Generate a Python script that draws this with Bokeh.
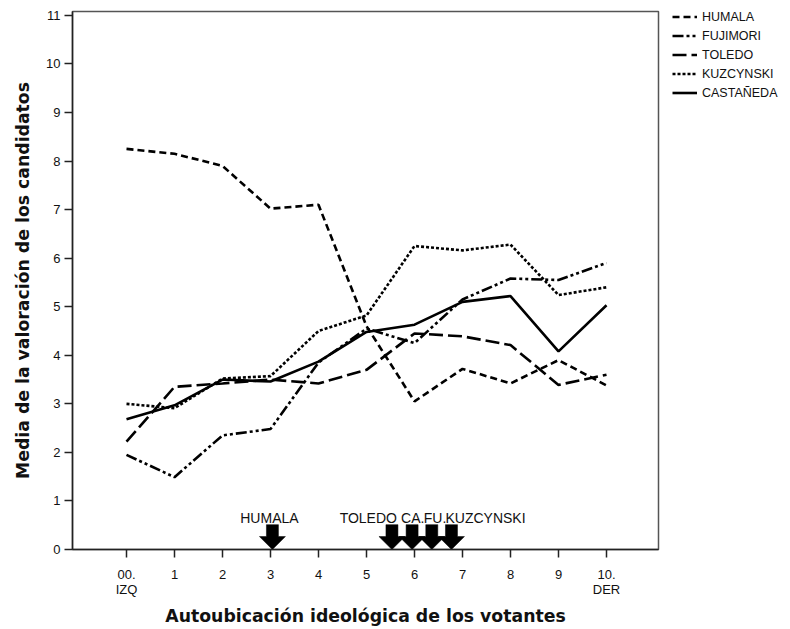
from bokeh.plotting import figure
from bokeh.models import Legend, LegendItem, FixedTicker, Range1d
from bokeh.layouts import row
from bokeh.embed import file_html
from bokeh.resources import INLINE
from bokeh.core.properties import value

# ---- data ----
positions = [0, 1, 2, 3, 4, 5, 6, 7, 8, 9, 10]
x_tick_labels = ["00.\nIZQ", "1", "2", "3", "4", "5", "6", "7", "8", "9", "10.\nDER"]
y_ticks = [0, 1, 2, 3, 4, 5, 6, 7, 8, 9, 10, 11]

humala = [8.25, 8.15, 7.90, 7.02, 7.10, 4.60, 3.05, 3.72, 3.42, 3.90, 3.38]
fujimori = [1.95, 1.49, 2.35, 2.48, 3.85, 4.55, 4.25, 5.15, 5.58, 5.55, 5.90]
toledo = [2.22, 3.35, 3.42, 3.50, 3.42, 3.70, 4.45, 4.39, 4.21, 3.39, 3.60]
kuzcynski = [3.00, 2.91, 3.52, 3.57, 4.50, 4.82, 6.25, 6.16, 6.28, 5.24, 5.40]
castaneda = [2.68, 2.97, 3.50, 3.46, 3.87, 4.48, 4.63, 5.10, 5.22, 4.08, 5.03]

series_names = ["HUMALA", "FUJIMORI", "TOLEDO", "KUZCYNSKI", "CASTAÑEDA"]
series_values = [humala, fujimori, toledo, kuzcynski, castaneda]

arrow_names = ["HUMALA", "TOLEDO", "CA.", "FU.", "KUZCYNSKI"]
arrow_x = [3.04, 5.53, 5.95, 6.36, 6.77]

# ---- styles ----
series_dash = ["7 4", "11 3 3 3 3 3", "14 5", "3 2", "solid"]
label_dx = [-3, 5, -11, -8, -6]
label_align = ["center", "right", "left", "left", "left"]

X_MIN, X_MAX = -1.125, 11.083
Y_MIN, Y_MAX = 0.0, 11.08
W, H = 664, 629
ML, MR, MT, MB = 72, 6, 11, 77
FRAME_W = W - ML - MR
FRAME_H = H - MT - MB
LEG_W = 126

p = figure(width=W, height=H, title=None,
           x_range=Range1d(X_MIN, X_MAX), y_range=Range1d(Y_MIN, Y_MAX),
           output_backend="svg", toolbar_location=None,
           min_border_left=ML, min_border_right=MR,
           min_border_top=MT, min_border_bottom=MB)

p.xgrid.visible = False
p.ygrid.visible = False
p.background_fill_color = "white"
p.border_fill_color = "white"
p.outline_line_color = "#555555"
p.outline_line_width = 1.5

# axes
p.xaxis.ticker = FixedTicker(ticks=positions)
p.xaxis.major_label_overrides = {pos: lab for pos, lab in zip(positions, x_tick_labels)}
p.yaxis.ticker = FixedTicker(ticks=y_ticks)
for ax in (p.xaxis[0], p.yaxis[0]):
    ax.axis_line_color = "#222222"
    ax.axis_line_width = 1.5
    ax.major_tick_line_color = "#222222"
    ax.major_tick_line_width = 1.5
    ax.major_tick_in = 0
    ax.major_tick_out = 8
    ax.minor_tick_line_color = None
    ax.major_label_text_font = "Liberation Sans"
    ax.major_label_text_font_size = "13px"
    ax.major_label_text_color = "#111111"
    ax.axis_label_text_font = "DejaVu Sans"
    ax.axis_label_text_font_style = "bold"
    ax.axis_label_text_font_size = "17.3px"
    ax.axis_label_text_color = "#111111"

p.xaxis.major_label_standoff = 9
p.xaxis.major_label_text_line_height = 1.05
p.xaxis.axis_label = "Autoubicación ideológica de los votantes"
p.xaxis.axis_label_standoff = 6

p.yaxis.major_label_standoff = 4
p.yaxis.axis_label = "Media de la valoración de los candidatos"
p.yaxis.axis_label_standoff = 10

# lines
for name, vals, dash in zip(series_names, series_values, series_dash):
    p.line(positions, vals, line_color="black", line_width=2.6, line_dash=dash)

# arrows (block arrows pointing at the axis)
px_x = FRAME_W / (X_MAX - X_MIN)
px_y = FRAME_H / (Y_MAX - Y_MIN)
head_half = 13 / px_x
shaft_half = 6 / px_x
head_h = 13 / px_y
total_h = 25 / px_y
xs, ys = [], []
for ax_ in arrow_x:
    xs.append([ax_, ax_ - head_half, ax_ - shaft_half, ax_ - shaft_half,
               ax_ + shaft_half, ax_ + shaft_half, ax_ + head_half])
    ys.append([0, head_h, head_h, total_h, total_h, head_h, head_h])
p.patches(xs, ys, fill_color="black", line_color="black", line_width=0.5)

for name, ax_, dx, al in zip(arrow_names, arrow_x, label_dx, label_align):
    p.text(x=[ax_], y=[0], text=[name], x_offset=dx, y_offset=-32,
           text_align=al, text_baseline="middle",
           text_font=value("Liberation Sans"), text_font_size="14px",
           text_color="#111111")

# legend panel (separate figure to the right of the chart; its frame is
# aligned with the chart's frame, and its ranges keep the series out of view
# so only the legend shows)
pl = figure(width=LEG_W, height=H, title=None, output_backend="svg",
            toolbar_location=None, x_axis_location=None, y_axis_location=None,
            min_border=0, x_range=Range1d(-2, -1), y_range=Range1d(-2, -1))
pl.xgrid.visible = False
pl.ygrid.visible = False
pl.outline_line_color = None
pl.background_fill_color = "white"
pl.border_fill_color = "white"

ROW = 19
items = []
for name, vals, dash in zip(series_names, series_values, series_dash):
    r = pl.line(positions, vals, line_color="black", line_width=2.6, line_dash=dash)
    items.append(LegendItem(label=name, renderers=[r]))

legend = Legend(items=items, location=(8, FRAME_H + MT - 10 - 5 * ROW),
                glyph_width=25, glyph_height=ROW, label_height=ROW, spacing=0,
                label_standoff=5, padding=0, margin=0,
                label_text_font="Liberation Sans", label_text_font_size="12.5px",
                label_text_color="#111111",
                border_line_alpha=0, background_fill_alpha=0)
pl.add_layout(legend)

layout = row(p, pl, spacing=0)
open("out.html", "w").write(file_html(layout, INLINE))
